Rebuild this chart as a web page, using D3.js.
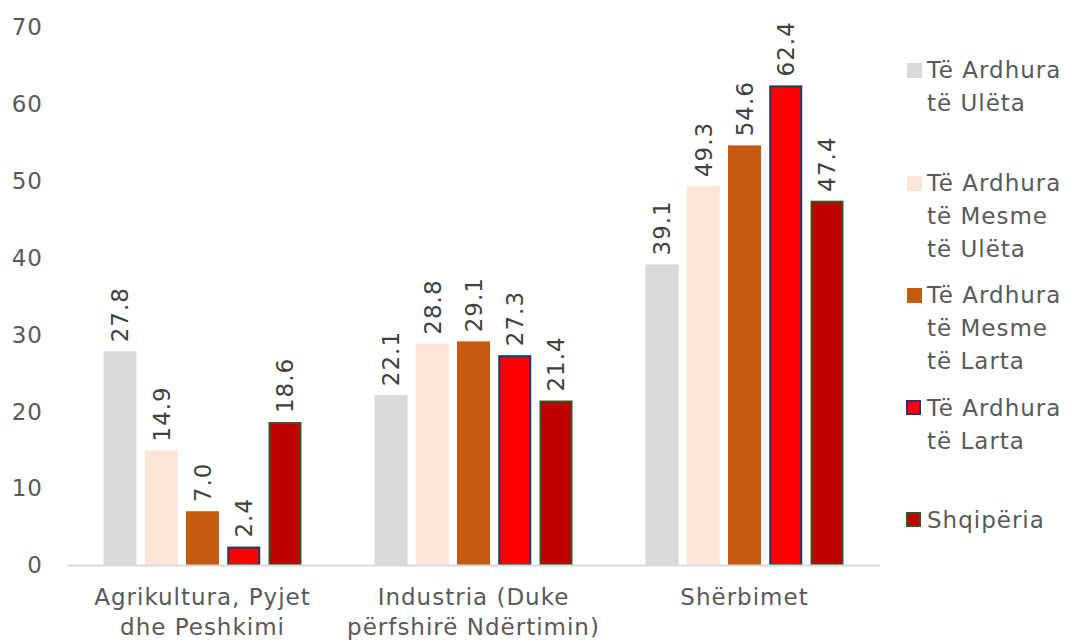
<!DOCTYPE html>
<html>
<head>
<meta charset="utf-8">
<script src="https://cdn.jsdelivr.net/npm/d3@7"></script>
<style>
  body { margin: 0; background: #fff; }
  text { font-family: "DejaVu Sans", sans-serif; letter-spacing: 1px; }
</style>
</head>
<body>
<div id="chart"></div>
<script>
// categories and series
const categories = [["Agrikultura, Pyjet", "dhe Peshkimi"], ["Industria (Duke", "përfshirë Ndërtimin)"], ["Shërbimet"]];
const catKeys = ["agri", "ind", "sherb"];
const seriesNames = [["Të Ardhura", "të Ulëta"], ["Të Ardhura", "të Mesme", "të Ulëta"], ["Të Ardhura", "të Mesme", "të Larta"], ["Të Ardhura", "të Larta"], ["Shqipëria"]];
const seriesKeys = ["s1", "s2", "s3", "s4", "s5"];
const fills = ["#D9D9D9", "#FBE5D6", "#C55A11", "#FF0000", "#C00000"];
const strokes = [null, null, null, "#203864", "#375623"];

// values per series (agri, industry, services)
const lowIncome = [27.8, 22.1, 39.1];
const lowerMiddle = [14.9, 28.8, 49.3];
const upperMiddle = [7.0, 29.1, 54.6];
const highIncome = [2.4, 27.3, 62.4];
const albania = [18.6, 21.4, 47.4];
const values = [lowIncome, lowerMiddle, upperMiddle, highIncome, albania];
const yTicks = [0, 10, 20, 30, 40, 50, 60, 70];

const width = 1080, height = 642;
const svg = d3.select("#chart").append("svg")
  .attr("width", width).attr("height", height);

const y = d3.scaleLinear().domain([0, 70]).range([565, 27]);
const x0 = d3.scaleBand().domain(catKeys).range([67, 880]).padding(0);
const x1 = d3.scaleBand().domain(seriesKeys).range([0, 198]).paddingInner(0.2).paddingOuter(0);
const groupOffset = (x0.bandwidth() - 198) / 2;
const fs = "23px";

// y axis labels (no line)
svg.append("g").selectAll("text").data(yTicks).enter().append("text")
  .attr("x", 43).attr("y", d => y(d)).attr("dy", "0.36em")
  .attr("text-anchor", "end")
  .style("font-size", fs).attr("fill", "#595959")
  .text(d => d);

// bars
seriesKeys.forEach(function(k, si) {
  const g = svg.append("g");
  g.selectAll("rect").data(values[si]).enter().append("rect")
    .attr("x", (d, i) => x0(catKeys[i]) + groupOffset + x1(k) + (strokes[si] ? 1 : 0))
    .attr("y", d => y(d) + (strokes[si] ? 1 : 0))
    .attr("width", x1.bandwidth() - (strokes[si] ? 2 : 0))
    .attr("height", d => y(0) - y(d) - (strokes[si] ? 1 : 0))
    .attr("fill", fills[si])
    .attr("stroke", strokes[si] || "none")
    .attr("stroke-width", 2);

  g.selectAll("text").data(values[si]).enter().append("text")
    .attr("transform", (d, i) => {
      const cx = x0(catKeys[i]) + groupOffset + x1(k) + x1.bandwidth() / 2;
      return "translate(" + cx + "," + (y(d) - 9) + ") rotate(-90)";
    })
    .attr("dy", "0.36em")
    .attr("text-anchor", "start")
    .style("font-size", fs).attr("fill", "#404040")
    .text(d => d.toFixed(1));
});

// x axis line
svg.append("line")
  .attr("x1", 67).attr("x2", 880)
  .attr("y1", y(0) + 0.5).attr("y2", y(0) + 0.5)
  .attr("stroke", "#D9D9D9").attr("stroke-width", 2);

// category labels
catKeys.forEach(function(k, i) {
  const t = svg.append("text")
    .attr("x", x0(k) + x0.bandwidth() / 2).attr("y", 605)
    .attr("text-anchor", "middle")
    .style("font-size", fs).attr("fill", "#595959");
  categories[i].forEach(function(line, j) {
    t.append("tspan").attr("x", x0(k) + x0.bandwidth() / 2).attr("dy", j === 0 ? 0 : 30).text(line);
  });
});

// legend
const legendY = [70, 183, 295, 408, 520];
seriesKeys.forEach(function(k, si) {
  const ly = legendY[si];
  svg.append("rect")
    .attr("x", 907).attr("y", ly - 7)
    .attr("width", strokes[si] ? 13 : 15).attr("height", strokes[si] ? 13 : 15)
    .attr("fill", fills[si])
    .attr("stroke", strokes[si] || "none").attr("stroke-width", 2);
  const t = svg.append("text")
    .attr("x", 927).attr("y", ly)
    .style("font-size", fs).attr("fill", "#595959");
  seriesNames[si].forEach(function(line, j) {
    t.append("tspan").attr("x", 927).attr("dy", j === 0 ? "0.36em" : 33).text(line);
  });
});
</script>
</body>
</html>
